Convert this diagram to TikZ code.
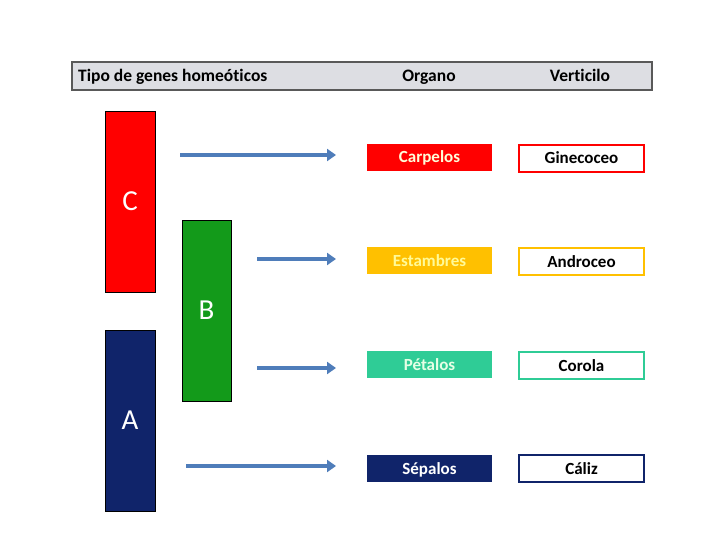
\documentclass[tikz,border=0pt]{standalone}
\usepackage{fontspec}
\setmainfont{Carlito}[Ligatures=NoCommon]
\usetikzlibrary{arrows.meta}
\definecolor{carpelred}{HTML}{FF0000}
\definecolor{estamyellow}{HTML}{FFC000}
\definecolor{petalgreen}{HTML}{2FCC96}
\definecolor{sepalnavy}{HTML}{10246A}
\definecolor{geneB}{HTML}{139A1A}
\definecolor{arrowblue}{HTML}{4F7DBA}
\definecolor{headgray}{HTML}{DDDEE3}

\begin{document}
\begin{tikzpicture}[x=1pt,y=-1pt,
  genebox/.style={draw=black,line width=0.8pt,minimum width=50pt,minimum height=181pt,
    inner sep=0pt,text=white,font=\fontsize{29}{31}\selectfont},
  organbox/.style={minimum width=125pt,minimum height=27pt,inner sep=0pt,
    text height=11pt,text depth=0pt,font=\bfseries\fontsize{17}{19}\selectfont},
  whorlbox/.style={fill=white,line width=1.6pt,minimum width=125pt,minimum height=27pt,
    inner sep=0pt,text height=11pt,text depth=0pt,font=\bfseries\fontsize{17}{19}\selectfont},
  headtext/.style={anchor=base,inner sep=0pt,font=\bfseries\fontsize{17.5}{19}\selectfont},
  fatarrow/.style={arrowblue,line width=4pt,-{Triangle[length=9pt,width=12pt]}}]
  \useasboundingbox (0,0) rectangle (706,537);
  \fill[white] (0,0) rectangle (706,537);
  % header
  \node[draw=black!65,line width=1.2pt,fill=headgray,minimum width=580pt,minimum height=28pt]
    (head) at (362,76) {};
  \node[headtext,anchor=base west] (tipo) at (78,82) {Tipo de genes homeóticos};
  \node[headtext] (organo) at (429,82) {Organo};
  \node[headtext] (verti) at (580,82) {Verticilo};
  % genes
  \node[genebox,fill=carpelred] (C) at (130,201.5) {C};
  \node[genebox,fill=geneB,minimum width=49pt] (B) at (206.5,310.5) {B};
  \node[genebox,fill=sepalnavy] (A) at (130,420.5) {A};
  % organs
  \node[organbox,fill=carpelred,text=white!85!yellow] (carp) at (429.5,157.5) {Carpelos};
  \node[organbox,fill=estamyellow,text=yellow!40] (estam) at (429.5,260.5) {Estambres};
  \node[organbox,fill=petalgreen,text=white!90!green] (petal) at (429.5,364.5) {Pétalos};
  \node[organbox,fill=sepalnavy,text=white] (sepal) at (429.5,468.5) {Sépalos};
  % whorls
  \node[whorlbox,draw=carpelred] (gine) at (581.5,158.5) {Ginecoceo};
  \node[whorlbox,draw=estamyellow] (andro) at (581.5,261.5) {Androceo};
  \node[whorlbox,draw=petalgreen] (corola) at (581.5,365.5) {Corola};
  \node[whorlbox,draw=sepalnavy] (caliz) at (581.5,468.5) {Cáliz};
  % arrows
  \coordinate (c1) at (180,155);
  \coordinate (c2) at (257,259);
  \coordinate (c3) at (257,368);
  \coordinate (c4) at (186,466);
  \coordinate (e1) at (336,155);
  \coordinate (e2) at (336,259);
  \coordinate (e3) at (336,368);
  \coordinate (e4) at (336,466);
  \draw[fatarrow] (c1) -- (e1);
  \draw[fatarrow] (c2) -- (e2);
  \draw[fatarrow] (c3) -- (e3);
  \draw[fatarrow] (c4) -- (e4);
\end{tikzpicture}
\end{document}
